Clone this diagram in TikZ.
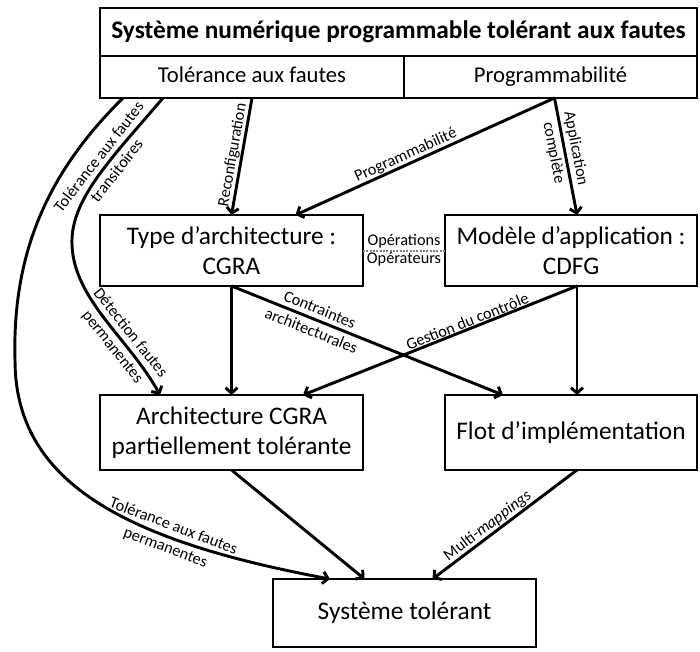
\documentclass[tikz,border=0pt]{standalone}
\usepackage{fontspec}
\setmainfont{Carlito}
\usetikzlibrary{positioning,calc,arrows.meta}

\begin{document}
\begin{tikzpicture}[x=0.75pt, y=-0.75pt, >={Straight Barb[length=4pt,width=9pt]},
        every node/.style={inner sep=0pt, outer sep=0pt},
        box/.style={draw, line width=1.5pt, align=center, font=\fontsize{19}{22.5}\selectfont},
        rangee/.style={box, minimum height=31.5pt, text height=12pt, text depth=3.5pt, font=\fontsize{17}{20}\selectfont},
        lien/.style={->, line width=2.2pt},
        etiq/.style={inner sep=1.5pt, align=center, sloped, text=black, font=\fontsize{12.2}{17}\selectfont}]
        \useasboundingbox (0,0) rectangle (700,651);

        % Bloc du haut : le systeme vise
        \node (titre) [box, minimum width=447.75pt, minimum height=36pt, font=\bfseries\fontsize{19}{22.5}\selectfont] at (398.5,32) {Système numérique programmable tolérant aux fautes};
        \node (tolf) [rangee, minimum width=228pt] at (252,77) {Tolérance aux fautes};
        \node (prog) [rangee, minimum width=219.75pt] at (550.5,77) {Programmabilité};

        % Modeles d'architecture et d'application
        \node (typea) [box, minimum width=197.25pt, minimum height=53.25pt] at (231.5,250.5) {Type d’architecture :\\CGRA};
        \node (modele) [box, minimum width=189pt, minimum height=53.25pt] at (571,250.5) {Modèle d’application :\\CDFG};

        % Architecture et flot
        \node (archi) [box, minimum width=197.25pt, minimum height=56.25pt] at (231.5,432.5) {Architecture CGRA\\partiellement tolérante};
        \node (flot) [box, minimum width=189pt, minimum height=56.25pt] at (571,432.5) {Flot d’implémentation};

        % Resultat
        \node (systol) [box, minimum width=197.25pt, minimum height=51pt] at (404.5,613) {Système tolérant};

        % Liens depuis le bloc du haut
        \draw[lien] (tolf.south) -- node[etiq, above] {Reconfiguration} (typea.north);
        \draw[lien] ($(prog.south)+(4,0)$) -- node[etiq, above, pos=0.56] {Programmabilité} ($(typea.north)+(64,0)$);
        \draw[lien] ($(prog.south)+(4,0)$) -- node[etiq, pos=0.45] {Application\\complète} ($(modele.north)+(6,0)$);
        \draw[lien] ($(tolf.south west)+(23,0)$) .. controls (50,170) and (12,250) .. (15,360)
                .. controls (15,480) and (120,540) .. ($(systol.north west)+(57,0)$) node[etiq, pos=0.7] {Tolérance aux fautes\\permanentes};
        \draw[lien] ($(tolf.south west)+(63,0)$) .. controls (110,160) and (70,200) .. (72,245) node[etiq, pos=0.4] {Tolérance aux fautes\\transitoires}
                .. controls (74,300) and (130,340) .. ($(archi.north west)+(60,0)$) node[etiq, pos=0.64] {Détection fautes\\permanentes};

        % Liens entre les modeles
        \draw[gray, densely dotted, line width=1.5pt] (typea.east) -- node[etiq, above] {Opérations} node[etiq, below] {Opérateurs} (modele.west);
        \draw[lien] (typea.south) -- (archi.north);
        \draw[lien] (typea.south) -- node[etiq, pos=0.31] {Contraintes\\architecturales} ($(flot.north west)+(58,0)$);
        \draw[lien] ($(modele.south)+(6,0)$) -- ($(flot.north)+(6,0)$);
        \draw[lien] ($(modele.south)+(6,0)$) -- node[etiq, above, pos=0.39] {Gestion du contrôle} ($(archi.north east)+(-60,0)$);

        % Vers le systeme tolerant
        \draw[lien] (archi.south) -- ($(systol.north)+(-40,0)$);
        \draw[lien] ($(flot.south)+(6,0)$) -- node[etiq, above, pos=0.58] {Multi-\textit{mappings}} ($(systol.north)+(28,0)$);
\end{tikzpicture}
\end{document}
